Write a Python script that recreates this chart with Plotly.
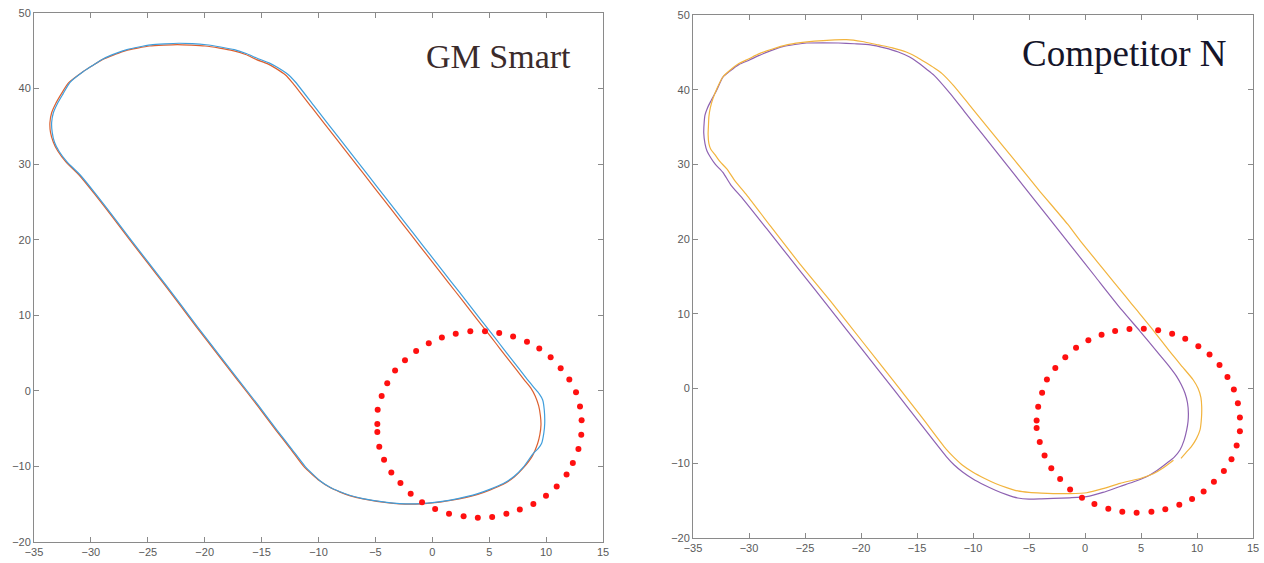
import plotly.graph_objects as go

# ---------------- data ----------------
# Left panel: GM Smart (orange and blue trajectories, red ring of markers)
gm_orange_x = [8.8, 8.0, 7.2, 6.2, 5.1, 4.0, 3.0, 1.6, 0.2, -1.9, -4.0, -6.1, -7.2, -8.1, -9.1, -9.9, -10.6, -11.3,
               -12.5, -13.7, -15.4, -17.2, -18.9, -20.7, -22.1, -23.5, -25.0, -26.6, -28.1, -29.7, -31.0, -32.2,
               -32.9, -33.3, -33.55, -33.6, -33.45, -33.1, -32.6, -31.97, -30.76, -29.9, -29.0, -27.9, -26.93, -25.9,
               -24.84, -23.6, -22.4, -21.2, -19.97, -18.7, -17.53, -16.4, -15.44, -14.5, -13.71, -12.9, -12.3,
               -10.64, -8.36, -6.70, -5.15, -3.60, -1.94, -0.28, 1.38, 2.73, 3.97, 4.75, 5.58, 6.40, 7.23, 8.06,
               8.65, 9.05, 9.35, 9.5, 9.55, 9.45, 9.25, 8.8]
gm_orange_y = [-8.6, -10.2, -11.4, -12.4, -13.1, -13.7, -14.1, -14.5, -14.8, -15.0, -14.8, -14.3, -13.9, -13.4, -12.7, -11.9, -11.0, -10.0,
               -7.6, -5.3, -1.9, 1.6, 4.9, 8.4, 11.2, 14.0, 16.9, 20.0, 23.0, 26.1, 28.5, 30.3,
               31.7, 32.9, 34.2, 35.5, 36.8, 38.0, 39.3, 40.75, 42.17, 43.0, 43.83, 44.5, 45.02, 45.35,
               45.63, 45.75, 45.82, 45.75, 45.63, 45.35, 45.02, 44.5, 43.83, 43.3, 42.64, 41.8, 40.8,
               37.6, 33.2, 30.0, 27.0, 24.0, 20.8, 17.6, 14.4, 11.8, 9.4, 7.9, 6.3, 4.7, 3.1, 1.5,
               0.4, -0.7, -2.0, -3.3, -4.5, -5.8, -7.0, -8.6]

gm_blue_x = [8.88, 8.0, 7.2, 6.2, 5.1, 4.0, 3.0, 1.6, 0.2, -1.9, -4.0, -6.1, -7.2, -8.1, -9.1, -9.9, -10.55, -11.2,
             -12.4, -13.6, -15.3, -17.1, -18.8, -20.6, -22.0, -23.4, -24.9, -26.5, -28.0, -29.6, -30.9, -32.1,
             -32.8, -33.2, -33.4, -33.45, -33.3, -32.95, -32.45, -31.85, -30.66, -29.8, -28.9, -27.8, -26.83, -25.8,
             -24.74, -23.5, -22.3, -21.1, -19.87, -18.6, -17.4, -16.3, -15.3, -14.35, -13.55, -12.7, -12.05,
             -10.34, -8.06, -6.40, -4.85, -3.30, -1.64, 0.02, 1.68, 3.03, 4.27, 5.05, 5.88, 6.70, 7.53, 8.36,
             8.9, 9.4, 9.7, 9.84, 9.88, 9.8, 9.61, 9.3, 8.88]
gm_blue_y = [-8.26, -10.1, -11.3, -12.3, -13.0, -13.6, -14.0, -14.45, -14.75, -14.95, -14.75, -14.25, -13.85, -13.35, -12.65, -11.85, -10.95, -9.95,
             -7.6, -5.3, -1.9, 1.6, 4.9, 8.4, 11.2, 14.0, 16.9, 20.0, 23.0, 26.1, 28.5, 30.3,
             31.7, 32.9, 34.2, 35.5, 36.8, 38.0, 39.3, 40.8, 42.25, 43.1, 43.95, 44.65, 45.15, 45.5,
             45.78, 45.92, 46.0, 45.95, 45.8, 45.5, 45.15, 44.6, 43.95, 43.4, 42.75, 41.9, 40.9,
             37.6, 33.2, 30.0, 27.0, 24.0, 20.8, 17.6, 14.4, 11.8, 9.4, 7.9, 6.3, 4.7, 3.1, 1.5,
             0.5, -0.4, -1.2, -2.53, -4.3, -5.6, -6.94, -7.65, -8.26]

gm_ring_x = [4.63, 5.88, 7.1, 8.32, 9.4, 10.4, 11.28, 12.04, 12.63, 12.98, 13.12, 13.09, 12.84, 12.35, 11.8, 10.93, 9.99,
             8.88, 7.69, 6.51, 5.26, 4.0, 2.75, 1.47, 0.25, -0.9, -1.9, -2.8, -3.6, -4.24, -4.66, -4.83, -4.83, -4.8,
             -4.45, -3.96, -3.27, -2.4, -1.42, -0.31, 0.84, 2.06, 3.34]
gm_ring_y = [7.9, 7.66, 7.2, 6.5, 5.6, 4.44, 3.0, 1.5, -0.2, -2.07, -3.9, -5.8, -7.7, -9.56, -11.08, -12.65, -13.88,
             -14.97, -15.69, -16.26, -16.68, -16.78, -16.59, -16.26, -15.64, -14.74, -13.6, -12.2, -10.8, -9.1, -7.38,
             -5.43, -4.39, -2.5, -0.69, 1.02, 2.68, 4.06, 5.29, 6.29, 7.05, 7.57, 7.9]

# Right panel: Competitor N (purple and yellow trajectories, red ring of markers)
cn_purple_x = [7.29, 6.4, 5.5, 4.3, 3.13, 1.6, 0.15, -1.37, -2.83, -3.9, -5.0, -6.0, -7.0, -8.0, -9.0, -10.0, -10.9, -11.7, -12.4,
               -14.54, -17.03, -19.88, -22.72, -25.57, -28.42, -30.55, -31.6, -32.33, -33.0, -33.4, -33.75, -33.93,
               -34.04, -34.0, -33.93, -33.7, -33.4, -32.9, -32.33, -31.7, -30.91, -30.0, -29.13, -28.1, -26.99,
               -25.9, -24.86, -23.4, -22.01, -20.6, -19.16, -17.9, -16.67, -15.7, -14.89, -14.2, -13.47, -12.05,
               -10.78, -9.0, -7.23, -5.43, -3.32, -1.2, 0.91, 3.28, 4.9, 6.5, 7.5, 8.19, 8.6, 8.93, 9.15, 9.23,
               9.2, 9.08, 8.85, 8.48, 7.95, 7.29]
cn_purple_y = [-10.0, -11.0, -11.8, -12.5, -13.1, -13.9, -14.47, -14.62, -14.7, -14.76, -14.8, -14.65, -14.2, -13.6, -12.9, -12.1, -11.2, -10.2, -9.07,
               -5.0, -0.2, 5.2, 10.6, 16.0, 21.4, 25.4, 27.2, 28.93, 30.0, 30.86, 31.8, 32.78,
               34.2, 35.67, 36.6, 37.6, 38.5, 39.9, 41.68, 42.5, 43.36, 43.95, 44.56, 45.2, 45.77,
               46.05, 46.25, 46.28, 46.25, 46.15, 46.01, 45.6, 45.05, 44.4, 43.6, 42.8, 41.92, 39.51,
               37.11, 33.74, 30.4, 27.0, 23.0, 19.0, 15.0, 10.52, 7.7, 4.8, 3.0, 1.6, 0.5, -0.63, -1.9, -3.3,
               -4.4, -5.54, -6.9, -8.22, -9.2, -10.0]

cn_yellow_x = [7.9, 7.0, 6.1, 5.0, 3.13, 1.6, 0.15, -1.37, -2.83, -3.9, -5.0, -6.0, -7.0, -8.0, -9.0, -10.0, -10.9, -11.7, -12.4,
               -14.54, -17.03, -19.88, -22.72, -25.57, -28.06, -30.2, -31.2, -31.98, -32.6, -33.04, -33.4, -33.58,
               -33.65, -33.62, -33.58, -33.45, -33.22, -32.85, -32.33, -31.7, -30.91, -30.0, -29.13, -27.9, -26.64,
               -25.4, -24.15, -22.7, -21.3, -19.9, -18.45, -17.2, -15.96, -15.0, -14.18, -13.45, -12.76, -11.69,
               -10.38, -8.49, -6.31, -4.14, -1.55, -0.44, 1.74, 3.64, 4.61, 6.2, 7.6, 8.7, 9.67, 10.1, 10.35, 10.42,
               10.4, 10.27, 9.95, 9.48, 9.0, 8.57]
cn_yellow_y = [-9.6, -10.6, -11.4, -12.0, -12.68, -13.4, -13.94, -14.05, -14.05, -14.0, -13.9, -13.7, -13.25, -12.7, -12.0, -11.2, -10.3, -9.2, -8.1,
               -3.9, 0.9, 6.3, 11.7, 16.9, 21.7, 25.9, 27.7, 29.4, 30.4, 31.3, 32.0, 32.8,
               34.0, 35.2, 36.4, 37.6, 38.8, 40.2, 41.7, 42.6, 43.5, 44.15, 44.8, 45.45, 46.0,
               46.3, 46.5, 46.65, 46.7, 46.45, 46.0, 45.6, 45.05, 44.35, 43.6, 42.9, 42.16, 40.48,
               38.07, 34.6, 30.6, 26.6, 22.0, 19.8, 15.8, 12.3, 10.52, 7.6, 4.9, 2.9, 1.15, 0.0, -1.2, -2.43,
               -3.9, -5.54, -6.7, -7.8, -8.6, -9.33]

cn_ring_x = [3.97, 5.25, 6.53, 7.78, 8.95, 10.12, 11.12, 12.01, 12.72, 13.29, 13.65, 13.83, 13.83, 13.54, 13.08, 12.4,
             11.51, 10.59, 9.56, 8.42, 7.17, 5.93, 4.61, 3.33, 2.08, 0.84, -0.27, -1.33, -2.22, -3.01, -3.61, -4.04,
             -4.32, -4.32, -4.18, -3.83, -3.4, -2.65, -1.76, -0.8, 0.3, 1.48, 2.69]
cn_ring_y = [7.96, 8.0, 7.82, 7.33, 6.66, 5.65, 4.55, 3.15, 1.56, -0.12, -1.95, -3.87, -5.7, -7.62, -9.45, -11.04,
             -12.48, -13.78, -14.79, -15.56, -16.14, -16.47, -16.62, -16.47, -16.09, -15.46, -14.6, -13.5, -12.1,
             -10.66, -8.97, -7.14, -5.27, -4.26, -2.44, -0.56, 1.21, 2.75, 4.2, 5.45, 6.47, 7.19, 7.72]

x_ticks = [-35, -30, -25, -20, -15, -10, -5, 0, 5, 10, 15]
y_ticks = [-20, -10, 0, 10, 20, 30, 40, 50]

# ---------------- figure ----------------
W, H = 1264, 563
fig = go.Figure()

line_w = 1.2
fig.add_trace(go.Scatter(x=gm_orange_x, y=gm_orange_y, mode="lines",
                         line=dict(color="#DC6030", width=line_w, shape="spline", smoothing=0.6),
                         xaxis="x", yaxis="y"))
fig.add_trace(go.Scatter(x=gm_blue_x, y=gm_blue_y, mode="lines",
                         line=dict(color="#3F9EDC", width=line_w, shape="spline", smoothing=0.6),
                         xaxis="x", yaxis="y"))
fig.add_trace(go.Scatter(x=gm_ring_x, y=gm_ring_y, mode="markers",
                         marker=dict(color="#FF1010", size=6, symbol="circle"), xaxis="x", yaxis="y"))

fig.add_trace(go.Scatter(x=cn_purple_x, y=cn_purple_y, mode="lines",
                         line=dict(color="#8E62B2", width=line_w, shape="spline", smoothing=0.6),
                         xaxis="x2", yaxis="y2"))
fig.add_trace(go.Scatter(x=cn_yellow_x, y=cn_yellow_y, mode="lines",
                         line=dict(color="#F2B43E", width=line_w, shape="spline", smoothing=0.6),
                         xaxis="x2", yaxis="y2"))
fig.add_trace(go.Scatter(x=cn_ring_x, y=cn_ring_y, mode="markers",
                         marker=dict(color="#FF1010", size=6, symbol="circle"), xaxis="x2", yaxis="y2"))

tickfont = dict(family="Liberation Sans, Arial, sans-serif", size=11, color="#5a5a5a")
axis_common = dict(showline=True, linecolor="#8a8a8a", linewidth=1, mirror="ticks",
                   ticks="inside", ticklen=5, tickcolor="#8a8a8a", tickwidth=1,
                   showgrid=False, zeroline=False, tickfont=tickfont, fixedrange=True,
                   automargin=False)


def px_x(p):
    return p / W


def px_y(p):
    return 1 - p / H


fig.update_layout(
    width=W, height=H,
    margin=dict(l=0, r=0, t=0, b=0, autoexpand=False),
    paper_bgcolor="white", plot_bgcolor="white",
    showlegend=False,
    xaxis=dict(domain=[px_x(34), px_x(603)], range=[-35, 15], tickvals=x_ticks,
               anchor="y", **axis_common),
    yaxis=dict(domain=[px_y(542), px_y(13)], range=[-20, 50], tickvals=y_ticks,
               anchor="x", **axis_common),
    xaxis2=dict(domain=[px_x(693), px_x(1253)], range=[-35, 15], tickvals=x_ticks,
                anchor="y2", **axis_common),
    yaxis2=dict(domain=[px_y(538), px_y(15)], range=[-20, 50], tickvals=y_ticks,
                anchor="x2", **axis_common),
    annotations=[
        dict(text="GM Smart", xref="paper", yref="paper",
             x=px_x(498), y=px_y(57), xanchor="center", yanchor="middle",
             showarrow=False,
             font=dict(family="Liberation Serif, Times New Roman, serif", size=34, color="#3b2b2b")),
        dict(text="Competitor N", xref="paper", yref="paper",
             x=px_x(1124), y=px_y(54), xanchor="center", yanchor="middle",
             showarrow=False,
             font=dict(family="Liberation Serif, Times New Roman, serif", size=37, color="#15152a")),
    ],
)

fig.write_html("out.html")
